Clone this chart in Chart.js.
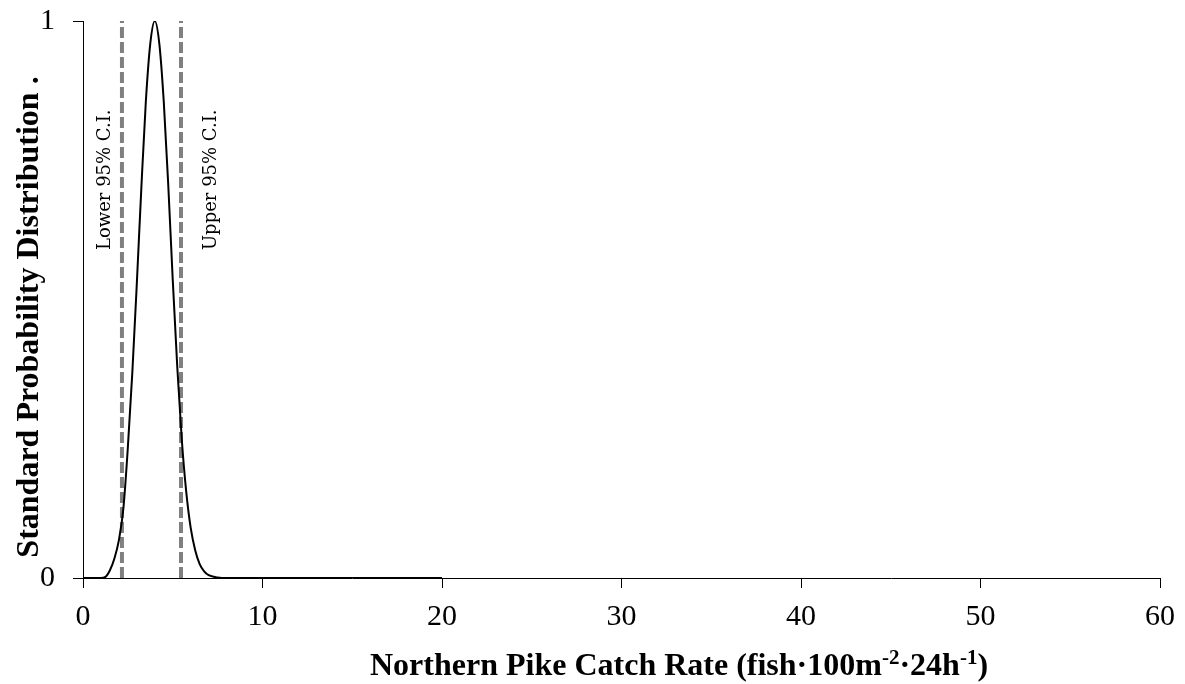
<!DOCTYPE html>
<html>
<head>
<meta charset="utf-8">
<script src="https://cdn.jsdelivr.net/npm/chart.js@4/dist/chart.umd.min.js"></script>
<style>
  html, body { margin: 0; padding: 0; background: #ffffff; }
  #wrap { width: 1185px; height: 684px; }
</style>
</head>
<body>
<div id="wrap"><canvas id="c" width="1185" height="684"></canvas></div>
<script>
// ---- data ----
const catchRate = [0, 0.5, 1.0, 1.25, 1.5, 1.75, 2.0, 2.25, 2.5, 2.75, 3.0, 3.25, 3.5, 3.75, 4.0, 4.25, 4.5, 4.75, 5.0, 5.25, 5.5, 5.75, 6.0, 6.25, 6.5, 6.75, 7.0, 7.5, 8.0, 9.0, 10, 12, 14, 16, 18, 20];
const probability = [0, 0, 0, 0.002, 0.014, 0.035, 0.068, 0.125, 0.235, 0.37, 0.53, 0.70, 0.855, 0.96, 1.0, 0.96, 0.855, 0.705, 0.535, 0.38, 0.25, 0.155, 0.09, 0.05, 0.025, 0.012, 0.005, 0.001, 0, 0, 0, 0, 0, 0, 0, 0];
const lowerCI = 2.17;
const upperCI = 5.46;
const xTicks = [0, 10, 20, 30, 40, 50, 60];
const yTicks = [0, 1];
const xTitleParts = [
  { text: 'Northern Pike Catch Rate (fish\u00B7100m', sup: false },
  { text: '-2', sup: true },
  { text: '\u00B724h', sup: false },
  { text: '-1', sup: true },
  { text: ')', sup: false }
];
const yTitle = 'Standard Probability Distribution .';
const lowerLabel = 'Lower 95% C.I.';
const upperLabel = 'Upper 95% C.I.';

const curve = catchRate.map((x, i) => ({ x: x, y: probability[i] }));
const lowerLine = [{ x: lowerCI, y: 0 }, { x: lowerCI, y: 1 }];
const upperLine = [{ x: upperCI, y: 0 }, { x: upperCI, y: 1 }];

const SERIF = '"Liberation Serif", "Times New Roman", serif';

const textPlugin = {
  id: 'textPlugin',
  afterDraw(chart) {
    const { ctx, scales: { x, y } } = chart;
    // CI labels (rotated, reading bottom to top)
    const yc = y.getPixelForValue(0.715);
    [[lowerLabel, x.getPixelForValue(lowerCI) - 12], [upperLabel, x.getPixelForValue(upperCI) + 35]].forEach(([txt, bx]) => {
      ctx.save();
      ctx.fillStyle = '#000';
      ctx.font = '18px "DejaVu Serif"';
      ctx.textAlign = 'center';
      ctx.textBaseline = 'alphabetic';
      ctx.translate(bx, yc);
      ctx.rotate(-Math.PI / 2);
      ctx.fillText(txt, 0, 0);
      ctx.restore();
    });

    // y axis title
    ctx.save();
    ctx.fillStyle = '#000';
    ctx.font = 'bold 32px ' + SERIF;
    ctx.textAlign = 'center';
    ctx.textBaseline = 'alphabetic';
    ctx.translate(38, 317);
    ctx.rotate(-Math.PI / 2);
    ctx.fillText(yTitle, 0, 0);
    ctx.restore();

    // x axis title with superscripts
    ctx.save();
    ctx.fillStyle = '#000';
    ctx.textAlign = 'left';
    ctx.textBaseline = 'alphabetic';
    const mainFont = 'bold 32px ' + SERIF;
    const supFont = 'bold 21px ' + SERIF;
    let cx = 370;
    const base = 675;
    xTitleParts.forEach(p => {
      ctx.font = p.sup ? supFont : mainFont;
      ctx.fillText(p.text, cx, p.sup ? base - 11 : base);
      cx += ctx.measureText(p.text).width;
    });
    ctx.restore();
  }
};

new Chart(document.getElementById('c'), {
  type: 'scatter',
  data: {
    datasets: [
      { data: lowerLine, showLine: true, borderColor: '#808080', borderWidth: 4, borderDash: [11, 4], pointRadius: 0, order: 2 },
      { data: upperLine, showLine: true, borderColor: '#808080', borderWidth: 4, borderDash: [11, 4], pointRadius: 0, order: 2 },
      { data: curve, showLine: true, borderColor: '#000000', borderWidth: 2, pointRadius: 0, tension: 0.4, cubicInterpolationMode: 'monotone', order: 1 }
    ]
  },
  options: {
    responsive: false,
    animation: false,
    devicePixelRatio: 1,
    layout: { padding: { left: 0, right: 25, top: 21, bottom: 0 } },
    plugins: { legend: { display: false }, tooltip: { enabled: false } },
    scales: {
      x: {
        type: 'linear', min: 0, max: 60,
        afterBuildTicks(s) { s.ticks = xTicks.map(v => ({ value: v })); },
        afterFit(s) { s.height = 106; s.paddingLeft = 0; s.paddingRight = 0; },
        grid: { display: true, drawOnChartArea: false, drawTicks: true, tickLength: 10, color: '#000', lineWidth: 1 },
        border: { display: true, color: '#000', width: 1 },
        ticks: { color: '#000', font: { family: SERIF, size: 30 }, padding: 11, maxRotation: 0, autoSkip: false },
        title: { display: false }
      },
      y: {
        type: 'linear', min: 0, max: 1,
        afterBuildTicks(s) { s.ticks = yTicks.map(v => ({ value: v })); },
        afterFit(s) { s.width = 83; s.paddingTop = 0; s.paddingBottom = 0; },
        grid: { display: true, drawOnChartArea: false, drawTicks: true, tickLength: 10, color: '#000', lineWidth: 1 },
        border: { display: true, color: '#000', width: 1 },
        ticks: { color: '#000', font: { family: SERIF, size: 30 }, padding: 18, autoSkip: false },
        title: { display: false }
      }
    }
  },
  plugins: [textPlugin]
});
</script>
</body>
</html>
